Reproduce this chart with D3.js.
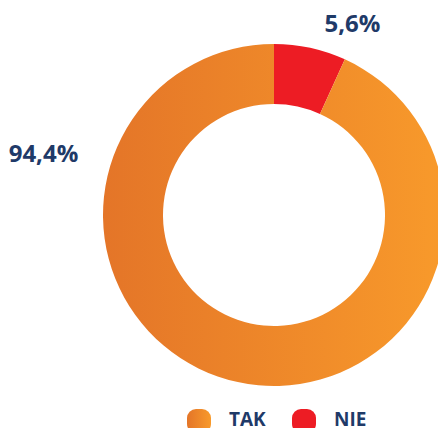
<!DOCTYPE html>
<html lang="pl">
<head>
  <meta charset="UTF-8">
  <title>TAK / NIE</title>
  <script src="https://cdn.jsdelivr.net/npm/d3@7"></script>
  <style>
    body { margin: 0; background: #fff; }
    svg { display: block; font-family: "Open Sans", sans-serif; }
  </style>
</head>
<body>
  <script>
    // data
    var categories = ['TAK', 'NIE']
    var shares = [93.2, 6.8]          // slice sizes as drawn
    var labels = ['94,4%', '5,6%']    // printed labels
    var colors = ['url(#gradOrange)', '#ED1C24']

    var w = 438, h = 428
    var cx = 274, cy = 215
    var outerR = 171, innerR = 111
    var navy = '#1F3A68'

    var svg = d3.select('body').append('svg').attr('width', w).attr('height', h)

    var defs = svg.append('defs')
    // gradient in the donut group's own coords (centre at 0,0)
    var g1 = defs.append('linearGradient').attr('id', 'gradOrange')
      .attr('gradientUnits', 'userSpaceOnUse')
      .attr('x1', -outerR).attr('x2', outerR).attr('y1', 0).attr('y2', 0)
    g1.append('stop').attr('offset', '0%').attr('stop-color', '#E47528')
    g1.append('stop').attr('offset', '100%').attr('stop-color', '#F89A2B')
    var g2 = defs.append('linearGradient').attr('id', 'gradLegend')
    g2.append('stop').attr('offset', '0%').attr('stop-color', '#E47528')
    g2.append('stop').attr('offset', '100%').attr('stop-color', '#F89A2B')

    var rows = categories.map(function (c, i) {
      return { cat: c, value: shares[i], label: labels[i], color: colors[i] }
    })

    // red slice starts at 12 o'clock, so draw NIE first
    var pie = d3.pie().sort(null).value(function (d) { return d.value })
    var arc = d3.arc().innerRadius(innerR).outerRadius(outerR)

    var g = svg.append('g').attr('transform', 'translate(' + cx + ',' + cy + ')')
    g.selectAll('path').data(pie(rows.slice().reverse())).enter().append('path')
      .attr('d', arc)
      .attr('fill', function (d) { return d.data.color })

    // value labels
    var labelPos = { TAK: [43.5, 162], NIE: [352.5, 32] }
    svg.selectAll('text.val').data(rows).enter().append('text')
      .attr('class', 'val')
      .attr('x', function (d) { return labelPos[d.cat][0] })
      .attr('y', function (d) { return labelPos[d.cat][1] })
      .attr('text-anchor', 'middle')
      .attr('font-size', '24px')
      .attr('font-weight', 'bold')
      .attr('fill', navy)
      .text(function (d) { return d.label })

    // legend
    var legendX = d3.scaleOrdinal().domain(categories).range([187, 292])
    var leg = svg.selectAll('g.leg').data(rows).enter().append('g')
      .attr('class', 'leg')
      .attr('transform', function (d) { return 'translate(' + legendX(d.cat) + ',409)' })
    leg.append('rect')
      .attr('width', 24).attr('height', 24).attr('rx', 9)
      .attr('fill', function (d) { return d.cat === 'TAK' ? 'url(#gradLegend)' : d.color })
    leg.append('text')
      .attr('x', 42).attr('y', 17)
      .attr('font-size', '19px')
      .attr('font-weight', 'bold')
      .attr('fill', navy)
      .text(function (d) { return d.cat })
  </script>
</body>
</html>
